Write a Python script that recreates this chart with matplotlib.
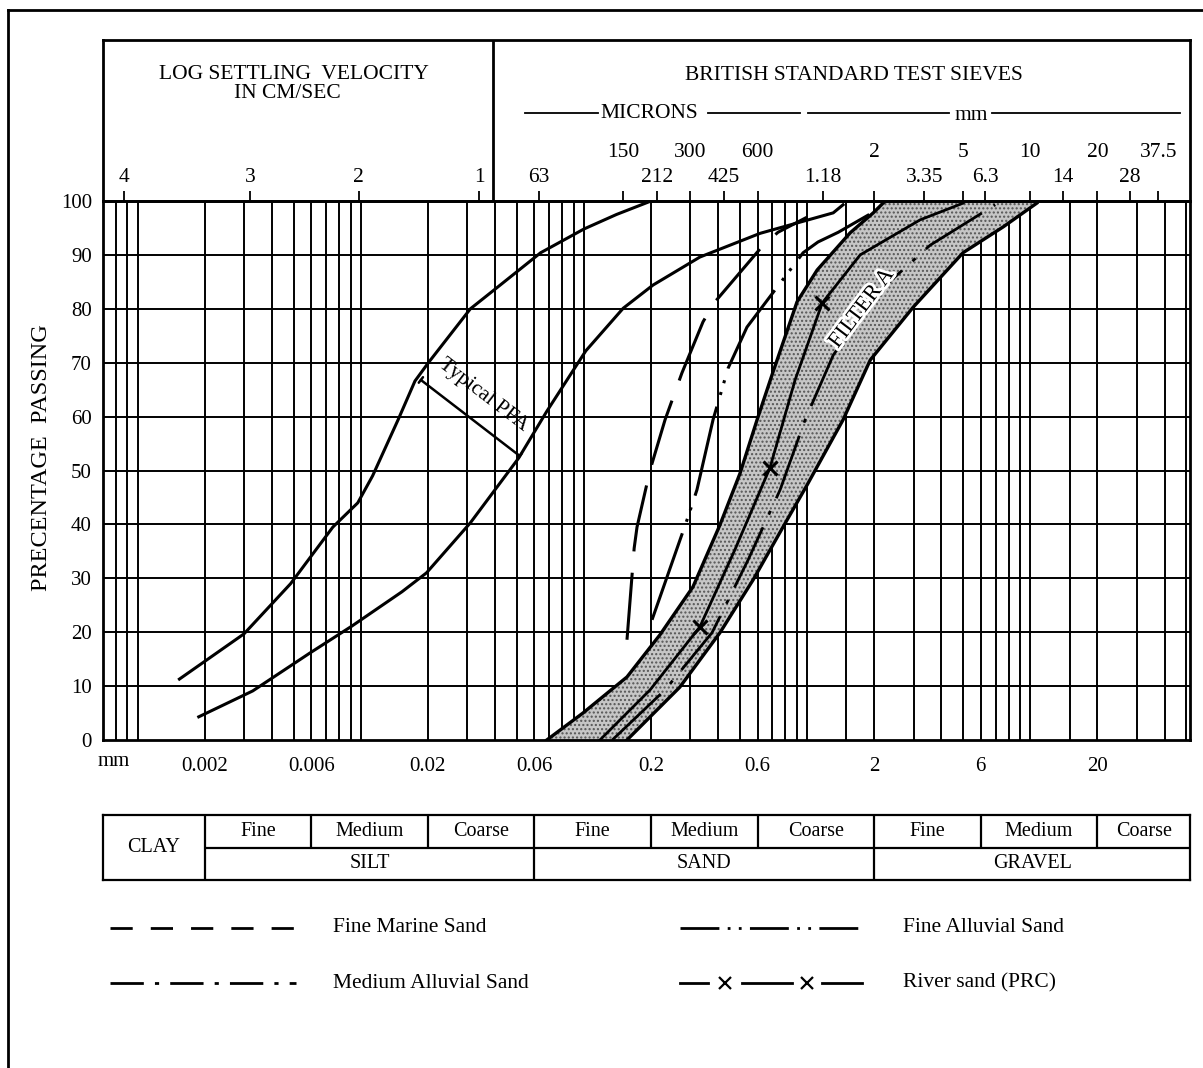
import matplotlib
matplotlib.use('Agg')
import matplotlib.pyplot as plt
import matplotlib.patheffects as pe
from matplotlib.lines import Line2D
from matplotlib.ticker import NullLocator

W, H = 1203, 1068
XMIN, XMAX = 0.0007, 52

plt.rcParams['font.family'] = ['Liberation Serif', 'DejaVu Serif']

# ---- data (particle size in mm, percentage passing) ----
pfaUpperD = [0.00154, 0.0030, 0.00485, 0.0075, 0.0097, 0.0113, 0.0147, 0.0175, 0.0201, 0.031, 0.041, 0.064, 0.10, 0.14, 0.20]
pfaUpperP = [11.3, 19.7, 29, 39.5, 44, 49, 59.4, 66.6, 70, 80, 84, 90.4, 94.8, 97.5, 100]

pfaLowerD = [0.00188, 0.00328, 0.0059, 0.0091, 0.0153, 0.0197, 0.031, 0.051, 0.068, 0.102, 0.150, 0.204, 0.331, 0.616, 1.31, 1.45]
pfaLowerP = [4.3, 9.1, 16.1, 21.1, 27.5, 31, 40.3, 52.3, 60.9, 72.2, 80.1, 84.4, 89.6, 94, 97.8, 99.3]

marineD = [0.156, 0.168, 0.173, 0.198, 0.231, 0.275, 0.342, 0.387, 0.636, 0.741, 1.0]
marineP = [18.6, 35.6, 39.5, 50.1, 59.4, 68.1, 77.6, 81.3, 91.8, 94.2, 97.0]

fineAlluvialD = [0.202, 0.293, 0.321, 0.331, 0.379, 0.443, 0.538, 0.96, 1.12, 1.38, 1.9]
fineAlluvialP = [22.3, 41.4, 46.4, 48.8, 59.4, 69.0, 76.6, 90.4, 92.4, 94.2, 97.5]

medAlluvialD = [0.134, 0.231, 0.375, 0.544, 0.757, 0.98, 1.31, 2.02, 3.56, 6.97]
medAlluvialP = [0, 9.3, 19.9, 33.4, 46.4, 59.4, 71.4, 82.6, 91.8, 99.3]

riverD = [0.118, 0.198, 0.331, 0.475, 0.682, 0.884, 1.17, 1.73, 3.21, 5.0]
riverP = [0, 9.3, 21, 35.3, 50.5, 66.8, 81.1, 90, 96.5, 99.6]
riverMarks = [2, 4, 6]

filterLeftD = [0.0682, 0.099, 0.156, 0.219, 0.308, 0.407, 0.501, 0.597, 0.704, 0.902, 1.11, 1.56, 1.98, 2.24]
filterLeftP = [0, 5, 11.7, 19.5, 28.4, 39.9, 49.5, 59.4, 68.3, 81.3, 87.2, 94.1, 97.8, 100]
filterRightD = [0.156, 0.269, 0.407, 0.573, 0.780, 1.0, 1.45, 1.92, 2.99, 5.0, 7.57, 10.7]
filterRightP = [0, 9.8, 19.9, 29.7, 39.5, 47.3, 59.4, 70.5, 80.3, 90.4, 95.2, 99.6]

# bottom size scale
bottomTicks = [0.002, 0.006, 0.02, 0.06, 0.2, 0.6, 2, 6, 20]
bottomLabels = ['0.002', '0.006', '0.02', '0.06', '0.2', '0.6', '2', '6', '20']

# BS sieves (top scale), two label rows
sieveUpperD = [0.15, 0.3, 0.6, 2, 5, 10, 20, 37.5]
sieveUpperLabels = ['150', '300', '600', '2', '5', '10', '20', '37.5']
sieveLowerD = [0.063, 0.212, 0.425, 1.18, 3.35, 6.3, 14, 28]
sieveLowerLabels = ['63', '212', '425', '1.18', '3.35', '6.3', '14', '28']

# settling velocity scale
settleD = [0.00087, 0.0032, 0.0098, 0.034]
settleLabels = ['4', '3', '2', '1']

# soil classification table
majorBounds = [0.002, 0.06, 2]
minorBounds = [0.006, 0.02, 0.2, 0.6, 6, 20]
subCells = [(0.002, 0.006, 'Fine'), (0.006, 0.02, 'Medium'), (0.02, 0.06, 'Coarse'),
            (0.06, 0.2, 'Fine'), (0.2, 0.6, 'Medium'), (0.6, 2, 'Coarse'),
            (2, 6, 'Fine'), (6, 20, 'Medium'), (20, XMAX, 'Coarse')]
mainCells = [(0.002, 0.06, 'SILT'), (0.06, 2, 'SAND'), (2, XMAX, 'GRAVEL')]


def fx(px):
    return px / W


def fy(py):
    return 1 - py / H


def gmean(a, b):
    return (a * b) ** 0.5


fig = plt.figure(figsize=(W / 100, H / 100), dpi=100)

# outer frame (top and left only, as scanned)
fig.add_artist(Line2D([fx(8), fx(1203)], [fy(10), fy(10)], color='black', lw=2))
fig.add_artist(Line2D([fx(8), fx(8)], [fy(10), fy(1068)], color='black', lw=2))

# ---- main chart ----
ax = fig.add_axes([fx(103), fy(740), fx(1190) - fx(103), fy(201) - fy(740)])
ax.set_xscale('log')
ax.set_xlim(XMIN, XMAX)
ax.set_ylim(0, 100)

gridX = []
for e in range(-4, 2):
    for k in range(1, 10):
        v = k * 10.0 ** e
        if XMIN < v < XMAX:
            gridX.append(v)
gridX += [1.5, 15]
ax.vlines(gridX, 0, 100, color='black', lw=1.4, zorder=1)
ax.hlines(range(10, 100, 10), XMIN, XMAX, color='black', lw=1.4, zorder=1)

# Filter A band
bandX = filterLeftD + filterRightD[::-1]
bandY = filterLeftP + filterRightP[::-1]
ax.fill(bandX, bandY, facecolor='#c6c6c6', hatch='....', edgecolor='#555555', lw=0, zorder=2)
ax.plot(filterLeftD, filterLeftP, color='black', lw=2.4, zorder=4)
ax.plot(filterRightD, filterRightP, color='black', lw=2.4, zorder=4)

# PFA
ax.plot(pfaUpperD, pfaUpperP, color='black', lw=2.2, zorder=4)
ax.plot(pfaLowerD, pfaLowerP, color='black', lw=2.2, zorder=4)

# sands
ax.plot(marineD, marineP, color='black', lw=2.2, ls=(0, (22, 7)), zorder=4)
ax.plot(fineAlluvialD, fineAlluvialP, color='black', lw=2.2, ls=(0, (30, 4, 1, 3, 1, 4)), zorder=4)
ax.plot(medAlluvialD, medAlluvialP, color='black', lw=2.0, ls=(0, (24, 5, 1.5, 5)), zorder=4)
ax.plot(riverD, riverP, color='black', lw=2.0, marker='x', ms=10, mew=2.2, markevery=riverMarks, zorder=4)

# Typical PFA bracket
ax.annotate('', xy=(0.0186, 66.8), xytext=(0.0516, 52.7),
            arrowprops=dict(arrowstyle='|-|,widthA=0.25,widthB=0.25', color='black', lw=1.8,
                            shrinkA=0, shrinkB=0), zorder=5)
ax.text(0.0356, 63.9, 'Typical PFA', rotation=-37.5, rotation_mode='anchor',
        ha='center', va='center', fontsize=15.5, zorder=5)
ax.text(1.77, 80, 'FILTER A', rotation=53, rotation_mode='anchor', ha='center', va='center',
        fontsize=16, zorder=5, path_effects=[pe.withStroke(linewidth=4, foreground='white')])

for sp in ax.spines.values():
    sp.set_linewidth(2)
ax.set_yticks(range(0, 101, 10))
ax.set_xticks(bottomTicks, bottomLabels)
ax.xaxis.set_minor_locator(NullLocator())
ax.tick_params(axis='y', length=0, pad=8, labelsize=15)
ax.tick_params(axis='x', length=0, pad=12, labelsize=15)
fig.text(fx(114), fy(762), 'mm', ha='center', va='center', fontsize=15)
fig.text(fx(42), fy(458), 'PRECENTAGE  PASSING', rotation=90, ha='center', va='center', fontsize=17.5)

# ---- header box ----
hax = fig.add_axes([fx(103), fy(201), fx(1190) - fx(103), fy(40) - fy(201)])
hax.set_xscale('log')
hax.set_xlim(XMIN, XMAX)
hax.set_ylim(0, 1)
hax.tick_params(which='both', bottom=False, left=False, labelbottom=False, labelleft=False)
hax.patch.set_alpha(0)
for sp in hax.spines.values():
    sp.set_linewidth(2)
hax.axvline(0.039, color='black', lw=2)
hax.vlines(sieveUpperD + sieveLowerD + settleD, 0, 0.062, color='black', lw=1.3)
for d, lab in zip(sieveUpperD, sieveUpperLabels):
    hax.text(d, 0.304, lab, ha='center', va='center', fontsize=15.5)
for d, lab in zip(sieveLowerD, sieveLowerLabels):
    hax.text(d, 0.149, lab, ha='center', va='center', fontsize=15.5)
for d, lab in zip(settleD, settleLabels):
    hax.text(d, 0.149, lab, ha='center', va='center', fontsize=15.5)

fig.text(fx(294), fy(74), 'LOG SETTLING  VELOCITY', ha='center', va='center', fontsize=15.5)
fig.text(fx(287), fy(93), 'IN CM/SEC', ha='center', va='center', fontsize=15.5)
fig.text(fx(854), fy(75), 'BRITISH STANDARD TEST SIEVES', ha='center', va='center', fontsize=15.5)
fig.text(fx(600), fy(113), 'MICRONS', ha='left', va='center', fontsize=15.5)
fig.text(fx(971), fy(116), 'mm', ha='center', va='center', fontsize=15.5)
for x0, x1 in [(525, 598), (708, 800), (808, 949), (992, 1180)]:
    fig.add_artist(Line2D([fx(x0), fx(x1)], [fy(113), fy(113)], color='black', lw=1.3))

# ---- classification table ----
tax = fig.add_axes([fx(103), fy(880), fx(1190) - fx(103), fy(815) - fy(880)])
tax.set_xscale('log')
tax.set_xlim(XMIN, XMAX)
tax.set_ylim(0, 2)
tax.tick_params(which='both', bottom=False, left=False, labelbottom=False, labelleft=False)
for sp in tax.spines.values():
    sp.set_linewidth(1.6)
tax.vlines(majorBounds, 0, 2, color='black', lw=1.6)
tax.vlines(minorBounds, 1, 2, color='black', lw=1.6)
tax.hlines(1, 0.002, XMAX, color='black', lw=1.6)
tax.text(gmean(XMIN, 0.002), 1, 'CLAY', ha='center', va='center', fontsize=14.5)
for a, b, lab in subCells:
    tax.text(gmean(a, b), 1.5, lab, ha='center', va='center', fontsize=14.5)
for a, b, lab in mainCells:
    tax.text(gmean(a, b), 0.5, lab, ha='center', va='center', fontsize=14.5)

# ---- legend ----
fig.add_artist(Line2D([fx(110), fx(296)], [fy(928), fy(928)], color='black', lw=2, ls=(0, (8, 6.5))))
fig.text(fx(333), fy(928), 'Fine Marine Sand', ha='left', va='center', fontsize=15.5)
fig.add_artist(Line2D([fx(680), fx(862)], [fy(928), fy(928)], color='black', lw=2, ls=(0, (14, 3, 1, 3, 1, 3))))
fig.text(fx(903), fy(928), 'Fine Alluvial Sand', ha='left', va='center', fontsize=15.5)
fig.add_artist(Line2D([fx(110), fx(296)], [fy(983), fy(983)], color='black', lw=2, ls=(0, (12, 4, 1.5, 4))))
fig.text(fx(333), fy(983), 'Medium Alluvial Sand', ha='left', va='center', fontsize=15.5)
for x0, x1 in [(680, 708), (742, 792), (822, 862)]:
    fig.add_artist(Line2D([fx(x0), fx(x1)], [fy(983), fy(983)], color='black', lw=2))
fig.add_artist(Line2D([fx(725), fx(807)], [fy(983), fy(983)], color='black', lw=0,
                      marker='x', ms=8, mew=1.6))
fig.text(fx(903), fy(983), 'River sand (PRC)', ha='left', va='center', fontsize=15.5)

plt.savefig('out.png', dpi=100)
